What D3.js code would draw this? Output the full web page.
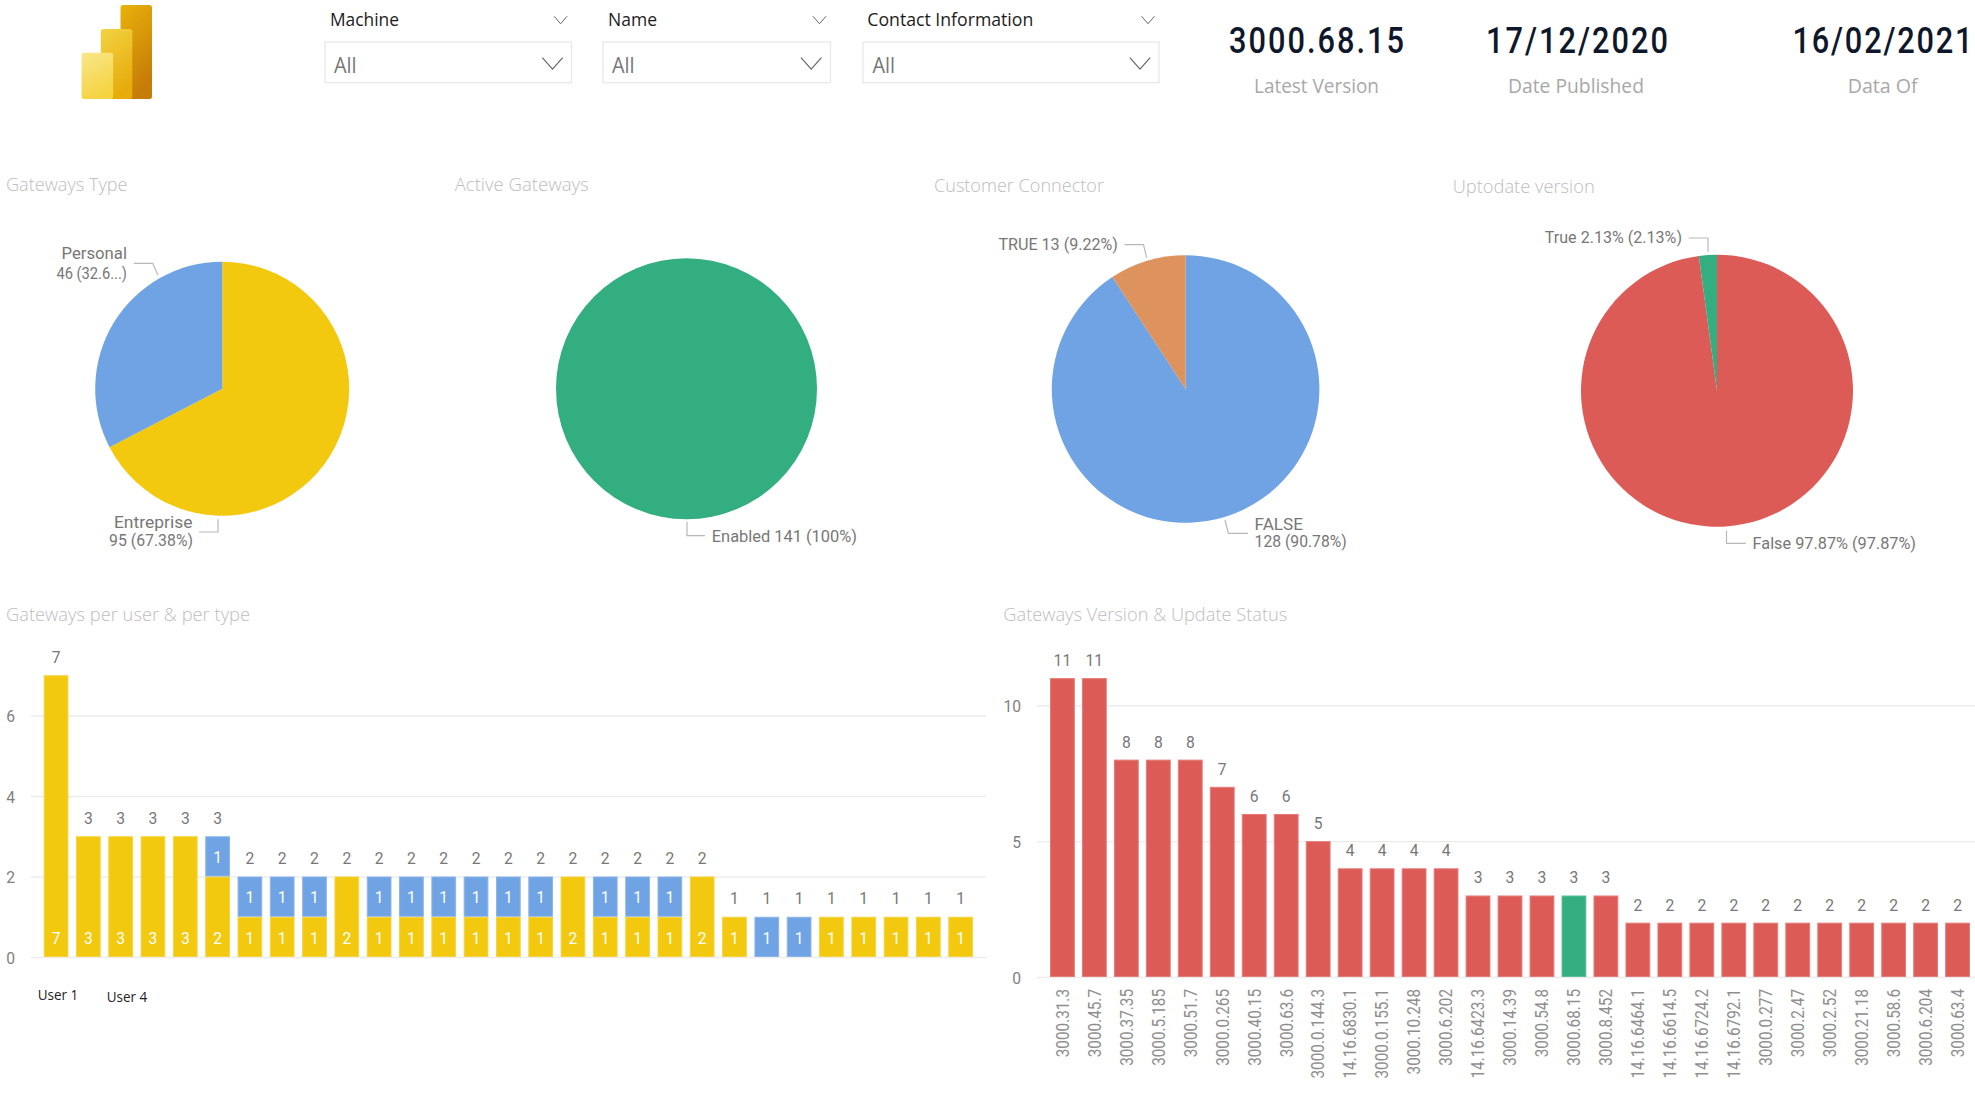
<!DOCTYPE html>
<html><head><meta charset="utf-8">
<script src="https://cdn.jsdelivr.net/npm/d3@7"></script>
<style>html,body{margin:0;padding:0;background:#fff;overflow:hidden}svg{display:block}</style>
</head><body><div id="chart"></div>
<script>
// ---------- data ----------
const slicerNames = ["Machine", "Name", "Contact Information"];
const slicerValue = "All";
const kpiValues = ["3000.68.15", "17/12/2020", "16/02/2021"];
const kpiLabels = ["Latest Version", "Date Published", "Data Of"];

const gatewayTypes = ["Entreprise", "Personal"];
const gatewayTypeValues = [95, 46];
const activeStates = ["Enabled"];
const activeValues = [141];
const connectorStates = ["FALSE", "TRUE"];
const connectorValues = [128, 13];
const uptodateStates = ["False", "True"];
const uptodateValues = [97.87, 2.13];

const users = ["u1","u2","u3","u4","u5","u6","u7","u8","u9","u10","u11","u12","u13","u14","u15","u16","u17","u18","u19","u20","u21","u22","u23","u24","u25","u26","u27","u28","u29"];
const entrepriseCounts = [7,3,3,3,3,2,1,1,1,2,1,1,1,1,1,1,2,1,1,1,2,1,0,0,1,1,1,1,1];
const personalCounts   = [0,0,0,0,0,1,1,1,1,0,1,1,1,1,1,1,0,1,1,1,0,0,1,1,0,0,0,0,0];
const userTicks = [0,2,4,6];

const versions = ["3000.31.3","3000.45.7","3000.37.35","3000.5.185","3000.51.7","3000.0.265","3000.40.15","3000.63.6","3000.0.144.3","14.16.6830.1","3000.0.155.1","3000.10.248","3000.6.202","14.16.6423.3","3000.14.39","3000.54.8","3000.68.15","3000.8.452","14.16.6464.1","14.16.6614.5","14.16.6724.2","14.16.6792.1","3000.0.277","3000.2.47","3000.2.52","3000.21.18","3000.58.6","3000.6.204","3000.63.4"];
const versionCounts = [11,11,8,8,8,7,6,6,5,4,4,4,4,3,3,3,3,3,2,2,2,2,2,2,2,2,2,2,2];
const latestVersion = "3000.68.15";
const versionTicks = [0,5,10];

// ---------- styles ----------
const YELLOW="#F2C90F", BLUE="#6FA3E3", GREEN="#33AE80", RED="#DD5B57", ORANGE="#DE925D";
const DIN="Roboto, sans-serif", SEGOE="'Open Sans', sans-serif";

const svg = d3.select("#chart").append("svg").attr("width",1975).attr("height",1093);

function txt(x,y,s,o={}){
  const t = svg.append("text").attr("x",x).attr("y",y).text(s)
    .attr("font-family",o.font||DIN).attr("font-size",o.size||16)
    .attr("font-weight",o.weight||400).attr("fill",o.fill||"#777")
    .attr("text-anchor",o.anchor||"start");
  if(o.width) t.attr("textLength",o.width).attr("lengthAdjust","spacingAndGlyphs");
  return t;
}
// narrow glyphs kept at full height, with the spare room going to the letter spacing
function condensed(x,y,s,size,fill,width,k){
  svg.append("text").attr("transform",`translate(${x},${y}) scale(${k},1)`).text(s)
    .attr("font-family",DIN).attr("font-size",size).attr("font-weight",500).attr("fill",fill)
    .attr("textLength",width/k).attr("lengthAdjust","spacing");
}
function squeeze(sel,k){
  sel.each(function(){
    const w=this.getComputedTextLength();
    d3.select(this).attr("textLength",w*k).attr("lengthAdjust","spacingAndGlyphs");
  });
}
function chevron(cx,cy,w,h,color,sw){
  svg.append("path").attr("d",d3.line()([[cx-w/2,cy-h/2],[cx,cy+h/2],[cx+w/2,cy-h/2]]))
    .attr("fill","none").attr("stroke",color).attr("stroke-width",sw);
}
function leader(points){
  svg.append("path").attr("d",d3.line()(points)).attr("fill","none").attr("stroke","#b8b8b8").attr("stroke-width",1.2);
}

// ---------- logo ----------
const defs = svg.append("defs");
[["g1","#F9E68C","#F5D442"],["g2","#F3D343","#E6AC0C"],["g3","#E8B20B","#C67C08"]].forEach(g=>{
  const lg=defs.append("linearGradient").attr("id",g[0]).attr("x1",0).attr("y1",0).attr("x2",0.35).attr("y2",1);
  lg.append("stop").attr("offset",0).attr("stop-color",g[1]);
  lg.append("stop").attr("offset",1).attr("stop-color",g[2]);
});
[[120.5,5,31.5,94,"g3"],[100.8,29,31.5,70,"g2"],[81.6,52.7,31.5,46.3,"g1"]].forEach(r=>{
  svg.append("rect").attr("x",r[0]).attr("y",r[1]).attr("width",r[2]).attr("height",r[3]).attr("rx",2.5).attr("fill",`url(#${r[4]})`);
});

// ---------- slicers ----------
const slicerGeom = [
  {box:[325,571.5],lab:330,w:69,small:560.6,big:552.5,all:334},
  {box:[603,830.5],lab:608,w:49,small:819.5,big:811.2,all:612},
  {box:[863,1159],lab:867.3,w:166,small:1148,big:1140,all:872.5}
];
slicerNames.forEach((n,i)=>{
  const g=slicerGeom[i];
  txt(g.lab,26,n,{font:SEGOE,size:18.5,fill:"#1c1c1c",width:g.w});
  chevron(g.small,20,13,7.5,"#666",1);
  svg.append("rect").attr("x",g.box[0]).attr("y",42).attr("width",g.box[1]-g.box[0]).attr("height",40.7)
    .attr("fill","#fff").attr("stroke","#e8e8e8").attr("stroke-width",1.3);
  chevron(g.big,63.3,20.4,11.5,"#666",1.2);
  txt(g.all,73,slicerValue,{font:SEGOE,size:21,fill:"#777",width:22.6});
});

// ---------- KPI cards ----------
const kpiGeom=[{x:1229,w:175,lc:1316.5,lw:125},{x:1486,w:182,lc:1576,lw:136},{x:1792.5,w:180,lc:1882.7,lw:70}];
kpiValues.forEach((v,i)=>{
  condensed(kpiGeom[i].x,53.3,v,37.5,"#0f172a",kpiGeom[i].w,0.82);
  txt(kpiGeom[i].lc,93.3,kpiLabels[i],{font:SEGOE,size:20,fill:"#a8a8a8",anchor:"middle",width:kpiGeom[i].lw});
});

// ---------- titles ----------
const titleOpts={font:SEGOE,size:18.5,weight:300,fill:"#bdbdbd"};
[["Gateways Type",6,191,121.5],["Active Gateways",454.7,191,134],["Customer Connector",934,192,170],["Uptodate version",1452.7,193,142],
 ["Gateways per user & per type",6,621,244],["Gateways Version & Update Status",1003.3,621,284]]
 .forEach(t=>txt(t[1],t[2],t[0],{...titleOpts,width:t[3]}));

// ---------- pies ----------
function drawPie(labels,values,colors,cx,cy,r){
  const slices=d3.pie().sort(null)(values);
  const arc=d3.arc().innerRadius(0).outerRadius(r);
  svg.append("g").attr("transform",`translate(${cx},${cy})`).selectAll("path").data(slices).join("path")
    .attr("d",arc).attr("fill",(d,i)=>colors[i]);
}
drawPie(gatewayTypes,gatewayTypeValues,[YELLOW,BLUE],222.2,388.7,127);
drawPie(activeStates,activeValues,[GREEN],686.5,388.8,130.5);
drawPie(connectorStates,connectorValues,[BLUE,ORANGE],1185.6,389,133.8);
drawPie(uptodateStates,uptodateValues,[RED,GREEN],1717,390.7,136);

const pl={size:16.5,fill:"#777"};
leader([[133.8,263.3],[152.7,263.3],[157.9,275]]);
txt(127,259.3,gatewayTypes[1],{...pl,anchor:"end",width:65.5});
txt(127,278.5,`${gatewayTypeValues[1]} (32.6...)`,{...pl,anchor:"end",width:70.6});
leader([[199,532],[218,532],[218,519.3]]);
txt(192.5,528,gatewayTypes[0],{...pl,anchor:"end",width:78.6});
txt(193,546,`${gatewayTypeValues[0]} (67.38%)`,{...pl,anchor:"end",width:84});
leader([[687,521.7],[687,535.7],[705,535.7]]);
txt(711.8,541.5,`${activeStates[0]} ${activeValues[0]} (100%)`,{...pl,width:145.2});
leader([[1124.5,244.7],[1143.5,244.7],[1146.7,257.7]]);
txt(998.4,250,`${connectorStates[1]} ${connectorValues[1]} (9.22%)`,{...pl,width:119.6});
leader([[1225,520],[1228.4,533.3],[1248,533.3]]);
txt(1254.6,529.5,connectorStates[0],{...pl,width:48.4});
txt(1254.6,547.2,`${connectorValues[0]} (90.78%)`,{...pl,width:92.1});
leader([[1688.6,238],[1708,238],[1708,251.7]]);
txt(1544.8,242.7,`${uptodateStates[1]} ${uptodateValues[1]}% (${uptodateValues[1]}%)`,{...pl,width:137.2});
leader([[1726.5,530.7],[1726.5,543.3],[1746,543.3]]);
txt(1752.6,548.7,`${uptodateStates[0]} ${uptodateValues[0]}% (${uptodateValues[0]}%)`,{...pl,width:163.4});

// ---------- shared axis ----------
function yAxis(y,ticks,x0,x1){
  const g=svg.append("g").attr("transform",`translate(${x0},0)`)
    .call(d3.axisLeft(y).tickValues(ticks).tickSize(-(x1-x0)).tickPadding(16).tickFormat(d3.format("d")));
  g.select(".domain").remove();
  g.selectAll(".tick line").attr("stroke","#ececec").attr("stroke-width",1.3);
  g.selectAll(".tick text").attr("font-family",DIN).attr("font-size",17).attr("fill","#808080").attr("dy","0.38em");
  squeeze(g.selectAll(".tick text"),0.92);
  return g;
}
function lighter(c){return d3.interpolateRgb(c,"#fff")(0.2);}

// ---------- stacked bars: gateways per user ----------
const x1=d3.scaleBand().domain(users).range([43.7,973]).paddingInner(0.235).paddingOuter(0);
const y1=d3.scaleLinear().domain([0,7]).range([957,675.25]);
yAxis(y1,userTicks,31,986);

const barData=users.map((u,i)=>({u,e:entrepriseCounts[i],p:personalCounts[i]}));
const stack=d3.stack().keys(["e","p"])(barData);
const stackCol={e:YELLOW,p:BLUE};
stack.forEach(layer=>{
  const col=stackCol[layer.key];
  svg.append("g").selectAll("rect").data(layer.filter(d=>d[1]>d[0])).join("rect")
    .attr("x",d=>x1(d.data.u)+.5).attr("y",d=>y1(d[1])+.5)
    .attr("width",x1.bandwidth()-1).attr("height",d=>y1(d[0])-y1(d[1])-1)
    .attr("fill",col).attr("stroke",lighter(col)).attr("stroke-width",1);
  const lab=svg.append("g").selectAll("text").data(layer.filter(d=>d[1]>d[0])).join("text")
    .attr("x",d=>x1(d.data.u)+x1.bandwidth()/2)
    .attr("y",d=>(d[0]===0? y1(0)-13 : (y1(d[0])+y1(d[1]))/2+6.5))
    .attr("text-anchor","middle").attr("font-family",DIN).attr("font-size",17).attr("fill","#fff")
    .text(d=>d[1]-d[0]);
  squeeze(lab,0.92);
});
const tot1=svg.append("g").selectAll("text").data(barData).join("text")
  .attr("x",d=>x1(d.u)+x1.bandwidth()/2).attr("y",d=>y1(d.e+d.p)-12.3)
  .attr("text-anchor","middle").attr("font-family",DIN).attr("font-size",17).attr("fill","#777")
  .text(d=>d.e+d.p);
squeeze(tot1,0.92);
txt(37.7,1000,"User 1",{font:SEGOE,size:15,fill:"#222",width:40.6});
txt(106.7,1002,"User 4",{font:SEGOE,size:15,fill:"#222",width:40.4});

// ---------- bars: versions ----------
const x2=d3.scaleBand().domain(versions).range([1050,1970]).paddingInner(0.224).paddingOuter(0);
const y2=d3.scaleLinear().domain([0,11]).range([977,678.1]);
yAxis(y2,versionTicks,1037,1975);
const colFor=v=>v===latestVersion?GREEN:RED;
const verData=versions.map((v,i)=>({v,n:versionCounts[i]}));
svg.append("g").selectAll("rect").data(verData).join("rect")
  .attr("x",d=>x2(d.v)+.5).attr("y",d=>y2(d.n)+.5)
  .attr("width",x2.bandwidth()-1).attr("height",d=>y2(0)-y2(d.n)-1)
  .attr("fill",d=>colFor(d.v)).attr("stroke",d=>lighter(colFor(d.v))).attr("stroke-width",1);
const tot2=svg.append("g").selectAll("text").data(verData).join("text")
  .attr("x",d=>x2(d.v)+x2.bandwidth()/2).attr("y",d=>y2(d.n)-12)
  .attr("text-anchor","middle").attr("font-family",DIN).attr("font-size",17).attr("fill","#777")
  .text(d=>d.n);
squeeze(tot2,0.92);
const xg=svg.append("g").attr("transform","translate(0,977)").call(d3.axisBottom(x2).tickSize(0));
xg.select(".domain").remove();
const xt=xg.selectAll(".tick text")
  .attr("transform","translate(0,12) rotate(-90)").attr("x",0).attr("y",0).attr("dy","0.35em")
  .attr("text-anchor","end").attr("font-family",DIN).attr("font-size",18).attr("fill","#8f8f8f");
squeeze(xt,0.85);
</script></body></html>
